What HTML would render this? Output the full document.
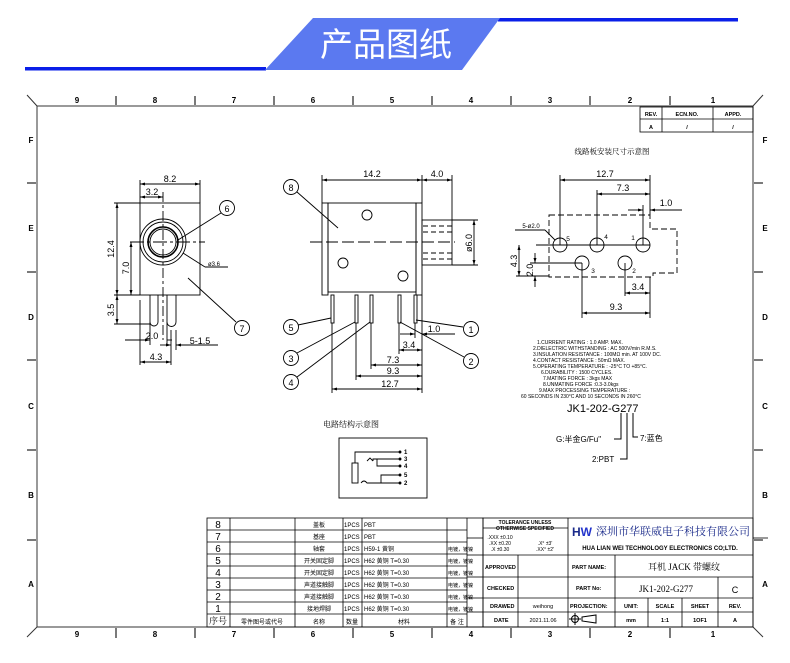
<!DOCTYPE html>
<html><head><meta charset="utf-8"><style>
html,body{margin:0;padding:0;background:#fff;}
svg{display:block;}
text{font-family:"Liberation Sans","Noto Sans CJK SC",sans-serif;fill:#000;}
.cn{font-family:"Liberation Serif","Noto Serif CJK SC",serif;}
.hd{font-family:"Noto Sans CJK SC",sans-serif;}
</style></head><body>
<svg width="790" height="663" viewBox="0 0 790 663" xmlns="http://www.w3.org/2000/svg">
<defs>
<marker id="ar" markerWidth="6" markerHeight="6" refX="5" refY="3" orient="auto-start-reverse" markerUnits="userSpaceOnUse"><path d="M0,1.5 L5,3 L0,4.5 z" fill="#000"/></marker>
</defs>
<!-- header -->
<rect x="25" y="67" width="241" height="3.5" fill="#0a1fe8"/>
<rect x="498" y="18" width="240" height="3.5" fill="#0a1fe8"/>
<polygon points="313,18 500,18 462,70 265,70" fill="#5b79f0"/>
<text x="386" y="56" font-size="33" text-anchor="middle" style="fill:#fff" class="hd">产品图纸</text>

<g stroke="#333" fill="none" stroke-width="1">
<rect x="37" y="106" width="716" height="521"/>
<line x1="37" y1="106" x2="27" y2="95"/><line x1="753" y1="106" x2="763" y2="95"/>
<line x1="37" y1="627" x2="27" y2="637"/><line x1="753" y1="627" x2="763" y2="637"/>
<g stroke-width="1.3">
<line x1="116" y1="96" x2="116" y2="105"/><line x1="195" y1="96" x2="195" y2="105"/><line x1="274" y1="96" x2="274" y2="105"/><line x1="353" y1="96" x2="353" y2="105"/><line x1="432" y1="96" x2="432" y2="105"/><line x1="511" y1="96" x2="511" y2="105"/><line x1="590" y1="96" x2="590" y2="105"/><line x1="670" y1="96" x2="670" y2="105"/>
<line x1="116" y1="628" x2="116" y2="638"/><line x1="195" y1="628" x2="195" y2="638"/><line x1="274" y1="628" x2="274" y2="638"/><line x1="353" y1="628" x2="353" y2="638"/><line x1="432" y1="628" x2="432" y2="638"/><line x1="511" y1="628" x2="511" y2="638"/><line x1="590" y1="628" x2="590" y2="638"/><line x1="670" y1="628" x2="670" y2="638"/>
<line x1="27" y1="183" x2="36" y2="183"/><line x1="27" y1="272" x2="36" y2="272"/><line x1="27" y1="360" x2="36" y2="360"/><line x1="27" y1="450" x2="36" y2="450"/><line x1="27" y1="540" x2="36" y2="540"/>
<line x1="754" y1="183" x2="763" y2="183"/><line x1="754" y1="272" x2="763" y2="272"/><line x1="754" y1="360" x2="763" y2="360"/><line x1="754" y1="450" x2="763" y2="450"/><line x1="754" y1="540" x2="763" y2="540"/>
</g>
</g>
<g font-size="8" font-weight="bold" text-anchor="middle">
<text x="77" y="103">9</text><text x="155" y="103">8</text><text x="234" y="103">7</text><text x="313" y="103">6</text><text x="392" y="103">5</text><text x="471" y="103">4</text><text x="550" y="103">3</text><text x="630" y="103">2</text><text x="713" y="103">1</text>
<text x="77" y="637">9</text><text x="155" y="637">8</text><text x="234" y="637">7</text><text x="313" y="637">6</text><text x="392" y="637">5</text><text x="471" y="637">4</text><text x="550" y="637">3</text><text x="630" y="637">2</text><text x="713" y="637">1</text>
<text x="31" y="143">F</text><text x="31" y="231">E</text><text x="31" y="320">D</text><text x="31" y="409">C</text><text x="31" y="498">B</text><text x="31" y="587">A</text>
<text x="765" y="143">F</text><text x="765" y="231">E</text><text x="765" y="320">D</text><text x="765" y="409">C</text><text x="765" y="498">B</text><text x="765" y="587">A</text>
</g>
<!-- rev table -->
<g stroke="#000" fill="none" stroke-width="0.8">
<rect x="640" y="107" width="113" height="25"/><line x1="640" y1="119" x2="753" y2="119"/><line x1="662" y1="107" x2="662" y2="132"/><line x1="713" y1="107" x2="713" y2="132"/>
</g>
<g font-size="5.5" font-weight="bold" text-anchor="middle">
<text x="651" y="116">REV.</text><text x="687" y="116">ECN.NO.</text><text x="733" y="116">APPD.</text>
<text x="651" y="129">A</text><text x="687" y="129">/</text><text x="733" y="129">/</text>
</g>

<!-- front view -->
<g stroke="#000" fill="none" stroke-width="0.9">
<rect x="140" y="203" width="60" height="92"/>
<circle cx="163" cy="242" r="23"/><circle cx="163" cy="242" r="20"/><circle cx="163" cy="242" r="15" stroke-width="1.6"/><circle cx="163" cy="242" r="13"/>
<line x1="130" y1="242" x2="205" y2="242" stroke-dasharray="14,3,3,3"/>
<line x1="163" y1="192" x2="163" y2="340" stroke-dasharray="10,3,3,3"/>
<path d="M150,295 V322 a4,4 0 0 0 8,0 V295"/><path d="M167,295 V322 a4.5,4.5 0 0 0 9,0 V295"/>
<line x1="140" y1="180" x2="140" y2="203"/><line x1="200" y1="180" x2="200" y2="203"/>
<line x1="140" y1="184" x2="200" y2="184" marker-start="url(#ar)" marker-end="url(#ar)"/>
<line x1="140" y1="197" x2="163" y2="197" marker-start="url(#ar)" marker-end="url(#ar)"/>
<line x1="114" y1="203" x2="140" y2="203"/><line x1="114" y1="295" x2="140" y2="295"/><line x1="114" y1="324" x2="150" y2="324"/>
<line x1="117" y1="203" x2="117" y2="295" marker-start="url(#ar)" marker-end="url(#ar)"/>
<line x1="117" y1="295" x2="117" y2="324" marker-start="url(#ar)" marker-end="url(#ar)"/>
<line x1="131" y1="242" x2="131" y2="295" marker-start="url(#ar)" marker-end="url(#ar)"/>
<line x1="150" y1="322" x2="150" y2="345"/><line x1="167" y1="322" x2="167" y2="345"/><line x1="171" y1="330" x2="171" y2="365"/><line x1="176" y1="330" x2="176" y2="350"/><line x1="140" y1="300" x2="140" y2="365"/>
<line x1="125" y1="340" x2="150" y2="340" marker-end="url(#ar)"/><line x1="167" y1="340" x2="172" y2="340"/>
<line x1="160" y1="345" x2="171" y2="345" marker-end="url(#ar)"/><line x1="176" y1="345" x2="218" y2="345" marker-start="url(#ar)"/>
<line x1="140" y1="362" x2="171" y2="362" marker-start="url(#ar)" marker-end="url(#ar)"/>
<circle cx="227" cy="208" r="7.5"/><line x1="221" y1="213" x2="178" y2="240"/>
<circle cx="242" cy="328" r="7.5"/><line x1="236" y1="322" x2="188" y2="278"/>
<line x1="183" y1="253" x2="205" y2="267"/><line x1="205" y1="267" x2="228" y2="267"/>
</g>
<g font-size="9" text-anchor="middle">
<text x="170" y="182">8.2</text><text x="152" y="195">3.2</text>
<text x="227" y="212">6</text><text x="242" y="332">7</text>
<text x="214" y="266" font-size="6">ø3.6</text>
<text transform="translate(114,249) rotate(-90)" >12.4</text>
<text transform="translate(129,268) rotate(-90)" >7.0</text>
<text transform="translate(114,310) rotate(-90)" >3.5</text>
<text x="152" y="339">2.0</text><text x="200" y="344">5-1.5</text><text x="156" y="360">4.3</text>
</g>

<!-- side view -->
<g stroke="#000" fill="none" stroke-width="0.9">
<rect x="322" y="203" width="6" height="92"/><rect x="328" y="203" width="88" height="89"/><rect x="416" y="203" width="6" height="92"/>
<rect x="422" y="220" width="30" height="45"/>
<g stroke-dasharray="5,3"><line x1="423" y1="226" x2="452" y2="226"/><line x1="423" y1="232" x2="452" y2="232"/><line x1="423" y1="253" x2="452" y2="253"/><line x1="423" y1="259" x2="452" y2="259"/></g>
<line x1="310" y1="242" x2="455" y2="242" stroke-dasharray="12,4"/>
<circle cx="367" cy="215" r="5"/><circle cx="343" cy="263" r="5"/><circle cx="403" cy="276" r="5"/>
<rect x="331" y="295" width="3" height="28"/><rect x="355" y="295" width="3" height="28"/><rect x="370" y="295" width="3" height="28"/><rect x="398" y="295" width="3" height="28"/><rect x="414" y="295" width="3" height="28"/>
<line x1="322" y1="175" x2="322" y2="203"/><line x1="422" y1="175" x2="422" y2="203"/><line x1="452" y1="175" x2="452" y2="220"/>
<line x1="322" y1="180" x2="422" y2="180" marker-start="url(#ar)" marker-end="url(#ar)"/>
<line x1="422" y1="180" x2="452" y2="180" marker-start="url(#ar)" marker-end="url(#ar)"/>
<line x1="452" y1="220" x2="478" y2="220"/><line x1="452" y1="265" x2="478" y2="265"/>
<line x1="474" y1="220" x2="474" y2="265" marker-start="url(#ar)" marker-end="url(#ar)"/>
<line x1="422" y1="295" x2="422" y2="393"/><line x1="332" y1="323" x2="332" y2="393"/><line x1="356" y1="323" x2="356" y2="380"/><line x1="371" y1="323" x2="371" y2="369"/><line x1="399" y1="323" x2="399" y2="354"/><line x1="415" y1="323" x2="415" y2="338"/>
<line x1="400" y1="334" x2="415" y2="334" marker-end="url(#ar)"/><line x1="422" y1="334" x2="455" y2="334" marker-start="url(#ar)"/>
<line x1="399" y1="350" x2="422" y2="350" marker-start="url(#ar)" marker-end="url(#ar)"/>
<line x1="371" y1="365" x2="422" y2="365" marker-start="url(#ar)" marker-end="url(#ar)"/>
<line x1="356" y1="376" x2="422" y2="376" marker-start="url(#ar)" marker-end="url(#ar)"/>
<line x1="332" y1="389" x2="422" y2="389" marker-start="url(#ar)" marker-end="url(#ar)"/>
<circle cx="291" cy="187" r="7.5"/><line x1="297" y1="192" x2="338" y2="228"/>
<circle cx="291" cy="327" r="7.5"/><line x1="298" y1="325" x2="331" y2="318"/>
<circle cx="291" cy="358" r="7.5"/><line x1="297" y1="353" x2="355" y2="322"/>
<circle cx="291" cy="382" r="7.5"/><line x1="297" y1="377" x2="370" y2="322"/>
<circle cx="471" cy="329" r="7.5"/><line x1="463" y1="327" x2="416" y2="320"/>
<circle cx="471" cy="361" r="7.5"/><line x1="464" y1="357" x2="400" y2="322"/>
</g>
<g font-size="9" text-anchor="middle">
<text x="372" y="177">14.2</text><text x="437" y="177">4.0</text>
<text transform="translate(472,243) rotate(-90)">ø6.0</text>
<text x="291" y="191">8</text><text x="291" y="331">5</text><text x="291" y="362">3</text><text x="291" y="386">4</text><text x="471" y="333">1</text><text x="471" y="365">2</text>
<text x="434" y="332">1.0</text><text x="409" y="348">3.4</text><text x="393" y="363">7.3</text><text x="393" y="374">9.3</text><text x="390" y="387">12.7</text>
</g>

<!-- PCB layout -->
<text x="612" y="154" font-size="7.5" text-anchor="middle" class="cn">线路板安装尺寸示意图</text>
<g stroke="#000" fill="none" stroke-width="0.9">
<polygon points="549,215 650,215 650,229 677,229 677,273 653,273 653,277 549,277" stroke-dasharray="6,3"/>
<circle cx="560" cy="245" r="7"/><circle cx="597" cy="245" r="7"/><circle cx="643" cy="245" r="7"/>
<circle cx="582" cy="263" r="7"/><circle cx="625" cy="263" r="7"/>
<line x1="536" y1="245" x2="650" y2="245"/>
<line x1="560" y1="175" x2="560" y2="245"/><line x1="597" y1="190" x2="597" y2="245"/><line x1="643" y1="205" x2="643" y2="245"/><line x1="650" y1="175" x2="650" y2="215"/>
<line x1="560" y1="180" x2="650" y2="180" marker-start="url(#ar)" marker-end="url(#ar)"/>
<line x1="597" y1="194" x2="650" y2="194" marker-start="url(#ar)" marker-end="url(#ar)"/>
<line x1="628" y1="210" x2="643" y2="210" marker-end="url(#ar)"/><line x1="650" y1="210" x2="682" y2="210" marker-start="url(#ar)"/>
<line x1="515" y1="230" x2="545" y2="230"/><line x1="545" y1="230" x2="555" y2="240"/>
<line x1="516" y1="276" x2="549" y2="276"/>
<line x1="519" y1="245" x2="519" y2="276" marker-start="url(#ar)" marker-end="url(#ar)"/>
<line x1="530" y1="263" x2="582" y2="263"/>
<line x1="535" y1="253" x2="535" y2="263" marker-end="url(#ar)"/><line x1="535" y1="276" x2="535" y2="287" marker-start="url(#ar)"/>
<line x1="625" y1="263" x2="625" y2="296"/><line x1="582" y1="263" x2="582" y2="318"/><line x1="650" y1="277" x2="650" y2="318"/>
<line x1="625" y1="293" x2="650" y2="293" marker-start="url(#ar)" marker-end="url(#ar)"/>
<line x1="582" y1="313" x2="650" y2="313" marker-start="url(#ar)" marker-end="url(#ar)"/>
</g>
<g font-size="9" text-anchor="middle">
<text x="605" y="177">12.7</text><text x="623" y="191">7.3</text><text x="666" y="206">1.0</text>
<text x="531" y="228" font-size="6">5-ø2.0</text>
<text x="568" y="241" font-size="6.5">5</text><text x="606" y="239" font-size="6.5">4</text><text x="633" y="240" font-size="6.5">1</text><text x="593" y="273" font-size="6.5">3</text><text x="634" y="273" font-size="6.5">2</text>
<text transform="translate(517,261) rotate(-90)">4.3</text>
<text transform="translate(533,270) rotate(-90)">2.0</text>
<text x="638" y="290">3.4</text><text x="616" y="310">9.3</text>
</g>

<!-- specs -->
<g font-size="5" font-family="Liberation Mono">
<text x="537" y="344">1.CURRENT RATING : 1.0 AMP. MAX.</text>
<text x="533" y="350">2.DIELECTRIC WITHSTANDING : AC 500V/min R.M.S.</text>
<text x="533" y="356">3.INSULATION RESISTANCE : 100MΩ min. AT 100V DC.</text>
<text x="533" y="362">4.CONTACT RESISTANCE : 50mΩ MAX.</text>
<text x="533" y="368">5.OPERATING TEMPERATURE : -25°C TO +85°C.</text>
<text x="541" y="374">6.DURABILITY : 1500 CYCLES.</text>
<text x="543" y="380">7.MATING FORCE : 3kgs MAX</text>
<text x="543" y="386">8.UNMATING FORCE :0.3-3.0kgs</text>
<text x="539" y="392">9.MAX PROCESSING TEMPERATURE :</text>
<text x="521" y="398">60 SECONDS IN 230°C AND 10 SECONDS IN 260°C</text>
</g>
<text x="567" y="412" font-size="11">JK1-202-G277</text>
<g stroke="#000" fill="none" stroke-width="1">
<path d="M621,413 V439 H614"/><path d="M627,413 V459 H620"/><path d="M633,413 V437 H638"/>
</g>
<g font-size="8" class="cn">
<text x="556" y="442">G:半金G/Fu"</text><text x="640" y="441">7:蓝色</text><text x="592" y="462">2:PBT</text>
</g>

<!-- circuit -->
<text x="351" y="427" font-size="8" text-anchor="middle" class="cn">电路结构示意图</text>
<g stroke="#000" fill="none" stroke-width="0.9">
<rect x="339" y="438" width="88" height="60"/>
<rect x="352" y="463" width="6" height="20"/>
<path d="M355,463 V452 H400"/><path d="M367,461 l3,-3 l3,3"/><path d="M373,461 V459 H400" /><path d="M377,459 V466 H400"/>
<path d="M361,483 q3,-4 6,0 H400"/><path d="M381,483 V475 H400"/>
<g fill="#000"><circle cx="400" cy="452" r="1"/><circle cx="400" cy="459" r="1"/><circle cx="400" cy="466" r="1"/><circle cx="400" cy="475" r="1"/><circle cx="400" cy="483" r="1"/></g>
</g>
<g font-size="6" font-weight="bold"><text x="404" y="454">1</text><text x="404" y="461">3</text><text x="404" y="468">4</text><text x="404" y="477">5</text><text x="404" y="485">2</text></g>

<!-- BOM table -->
<g stroke="#000" fill="none" stroke-width="0.8">
<rect x="207" y="518" width="276" height="109"/>
<line x1="230" y1="518" x2="230" y2="627"/><line x1="295" y1="518" x2="295" y2="627"/><line x1="343" y1="518" x2="343" y2="627"/><line x1="362" y1="518" x2="362" y2="627"/><line x1="447" y1="518" x2="447" y2="627"/><line x1="467" y1="518" x2="467" y2="627"/>
<line x1="207" y1="530" x2="467" y2="530"/><line x1="207" y1="542" x2="467" y2="542"/><line x1="207" y1="554" x2="467" y2="554"/><line x1="207" y1="566" x2="467" y2="566"/><line x1="207" y1="578" x2="467" y2="578"/><line x1="207" y1="590" x2="467" y2="590"/><line x1="207" y1="602" x2="467" y2="602"/><line x1="207" y1="614" x2="467" y2="614"/>
<line x1="467" y1="538" x2="483" y2="538"/><line x1="467" y1="555" x2="483" y2="555"/><line x1="467" y1="577" x2="483" y2="577"/><line x1="467" y1="598" x2="483" y2="598"/><line x1="467" y1="612" x2="483" y2="612"/>
</g>
<g font-size="10" text-anchor="middle">
<text x="218" y="528">8</text><text x="218" y="540">7</text><text x="218" y="552">6</text><text x="218" y="564">5</text><text x="218" y="576">4</text><text x="218" y="588">3</text><text x="218" y="600">2</text><text x="218" y="612">1</text>
<text x="218" y="624" font-size="9" class="cn">序号</text>
</g>
<g font-size="6" class="cn">
<g text-anchor="middle">
<text x="319" y="527">盖板</text><text x="319" y="539">基座</text><text x="319" y="551">轴套</text><text x="319" y="563">开关固定脚</text><text x="319" y="575">开关固定脚</text><text x="319" y="587">声道接触脚</text><text x="319" y="599">声道接触脚</text><text x="319" y="611">接地焊脚</text>
<text x="262" y="624">零件图号或代号</text><text x="319" y="624">名称</text><text x="352" y="624">数量</text><text x="404" y="624">材料</text><text x="457" y="624">备 注</text>
</g>
<text x="344" y="527">1PCS</text><text x="344" y="539">1PCS</text><text x="344" y="551">1PCS</text><text x="344" y="563">1PCS</text><text x="344" y="575">1PCS</text><text x="344" y="587">1PCS</text><text x="344" y="599">1PCS</text><text x="344" y="611">1PCS</text>
<text x="364" y="527">PBT</text><text x="364" y="539">PBT</text><text x="364" y="551">H59-1 黄铜</text><text x="364" y="563">H62 黄铜 T=0.30</text><text x="364" y="575">H62 黄铜 T=0.30</text><text x="364" y="587">H62 黄铜 T=0.30</text><text x="364" y="599">H62 黄铜 T=0.30</text><text x="364" y="611">H62 黄铜 T=0.30</text>
<text x="448" y="551" font-size="5">电镀，镀镍</text><text x="448" y="563" font-size="5">电镀，镀镍</text><text x="448" y="575" font-size="5">电镀，镀镍</text><text x="448" y="587" font-size="5">电镀，镀镍</text><text x="448" y="599" font-size="5">电镀，镀镍</text><text x="448" y="611" font-size="5">电镀，镀镍</text>
</g>

<!-- title block -->
<g stroke="#000" fill="none" stroke-width="0.8">
<rect x="483" y="518" width="270" height="109"/>
<line x1="483" y1="528" x2="568" y2="528"/><line x1="483" y1="555" x2="753" y2="555"/>
<line x1="483" y1="577" x2="753" y2="577"/><line x1="483" y1="598" x2="753" y2="598"/><line x1="483" y1="612" x2="753" y2="612"/>
<line x1="568" y1="518" x2="568" y2="627"/><line x1="518" y1="555" x2="518" y2="627"/>
<line x1="615" y1="555" x2="615" y2="627"/><line x1="718" y1="577" x2="718" y2="627"/>
<line x1="648" y1="598" x2="648" y2="627"/><line x1="682" y1="598" x2="682" y2="627"/>
<line x1="753" y1="538" x2="768" y2="538"/>
</g>
<g font-size="5" font-weight="bold" text-anchor="middle">
<text x="525" y="524">TOLERANCE UNLESS</text><text x="525" y="530">OTHERWISE SPECIFIED</text>
<text x="500" y="539" font-weight="normal">.XXX ±0.10</text><text x="500" y="545" font-weight="normal">.XX ±0.20</text><text x="500" y="551" font-weight="normal">.X ±0.30</text>
<text x="545" y="545" font-weight="normal">.X° ±3'</text><text x="545" y="551" font-weight="normal">.XX° ±2'</text>
</g>
<g font-size="5.5" font-weight="bold">
<text x="485" y="569">APPROVED</text><text x="487" y="590">CHECKED</text><text x="490" y="608">DRAWED</text><text x="494" y="622">DATE</text>
<text x="572" y="569">PART NAME:</text><text x="576" y="590">PART No:</text><text x="570" y="608">PROJECTION:</text>
</g>
<g font-size="5.5" text-anchor="middle">
<text x="543" y="608">weihong</text><text x="543" y="622">2021.11.06</text>
<g font-weight="bold"><text x="631" y="608">UNIT:</text><text x="665" y="608">SCALE</text><text x="700" y="608">SHEET</text><text x="735" y="608">REV.</text>
<text x="631" y="622">mm</text><text x="665" y="622">1:1</text><text x="700" y="622">1OF1</text><text x="735" y="622">A</text></g>
</g>
<text x="684" y="570" font-size="9" text-anchor="middle" class="cn">耳机 JACK 带螺纹</text>
<text x="666" y="592" font-size="9" text-anchor="middle" class="cn">JK1-202-G277</text>
<text x="735" y="593" font-size="9" text-anchor="middle">C</text>
<g stroke="#000" fill="none" stroke-width="1"><circle cx="575" cy="619" r="3.5"/><line x1="569" y1="619" x2="581" y2="619"/><line x1="575" y1="613" x2="575" y2="625"/><path d="M582,617 L596,615 V623 L582,621 z"/></g>
<text x="572" y="536" font-size="12" font-weight="bold" style="fill:#1a2a8a">H<tspan style="fill:#2233cc">W</tspan></text>
<text x="596" y="535" font-size="11" class="cn" style="fill:#1a2a8a">深圳市华联威电子科技有限公司</text>
<text x="660" y="550" font-size="6" font-weight="bold" text-anchor="middle">HUA LIAN WEI TECHNOLOGY ELECTRONICS CO;LTD.</text>
</svg>
</body></html>
